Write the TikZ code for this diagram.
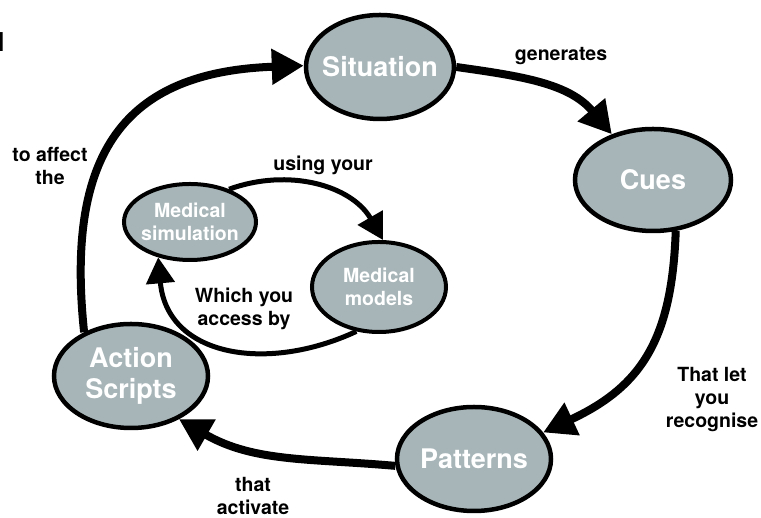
\documentclass[tikz,border=0pt]{standalone}
\usepackage{fontspec}
\setmainfont{TeX Gyre Heros}
\usetikzlibrary{arrows.meta,shapes.geometric}
\definecolor{stagefill}{RGB}{167,181,184}

\begin{document}
\begin{tikzpicture}[
    x=1pt, y=1pt,
    stage/.style={ellipse, draw, line width=4.5pt, fill=stagefill, text=white, align=center,
        font=\fontsize{27}{31}\selectfont\bfseries, inner xsep=-10pt, inner ysep=0pt},
    tool/.style={stage, line width=4pt, font=\fontsize{19.5}{23}\selectfont\bfseries},
    link/.style={align=center, font=\fontsize{19.5}{23}\selectfont\bfseries},
    bigarrow/.style={-{Triangle[length=32pt,width=34pt]}, line width=8pt},
    smallarrow/.style={-{Triangle[length=26pt,width=28pt]}, line width=5pt}
]
\useasboundingbox (0,0) rectangle (761,518);

% Outer cycle
\node[stage, minimum width=148pt, minimum height=104pt] (sit) at (380,451) {Situation};
\node[stage, minimum width=156pt, minimum height=102pt] (cues) at (653,338) {Cues};
\node[stage, minimum width=154pt, minimum height=104pt] (pat) at (474,59) {Patterns};
\node[stage, minimum width=154pt, minimum height=104pt] (act) at (131,142) {Action\\Scripts};

% Inner cycle
\node[tool, minimum width=132pt, minimum height=76pt] (msim) at (190,296) {Medical\\simulation};
\node[tool, minimum width=134pt, minimum height=90pt] (mmod) at (379,231) {Medical\\models};

% Labels
\node[link] (gen) at (561,462) {generates};
\node[link] (rec) at (712,118) {That let\\you\\recognise};
\node[link] (actv) at (253,22) {that\\activate};
\node[link] (aff) at (50,352) {to affect\\the};
\node[link] (use) at (323,353) {using your};
\node[link] (acc) at (244,209) {Which you\\access by};
\node[link, anchor=east, font=\fontsize{26}{31}\selectfont\bfseries] (cut) at (8,476) {d};

% Outer arrows
\draw[bigarrow] (act.137) to[out=96, in=182, out distance=180pt, in distance=180pt] (sit.179);
\draw[bigarrow] (sit.east) to[out=-8, in=130] (cues.132);
\draw[bigarrow] (cues.294) to[out=-92, in=25, looseness=1.15] (pat.21);
\draw[bigarrow] (pat.185) to[out=175, in=-30] (act.318);

% Inner arrows
\draw[smallarrow] (msim.40) to[out=20, in=120] (mmod.85);
\draw[smallarrow] (mmod.243) to[out=205, in=-85, looseness=1.2] (msim.228);

\end{tikzpicture}
\end{document}
